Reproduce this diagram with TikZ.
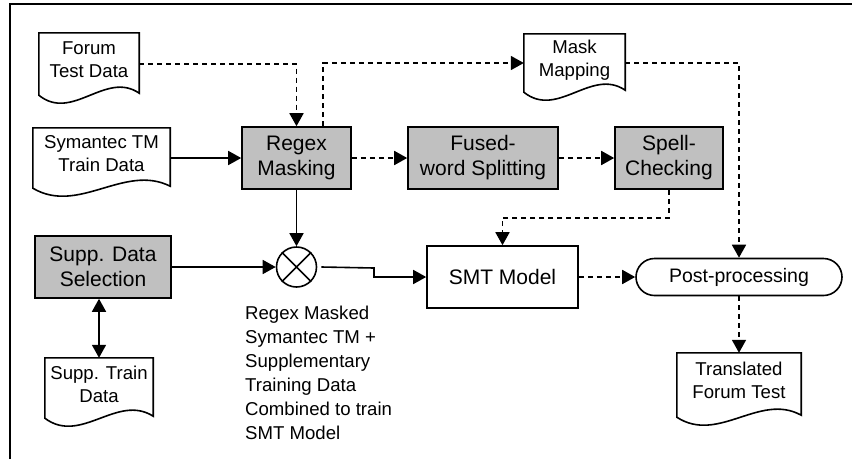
\documentclass[tikz,border=0pt]{standalone}
\usepackage{fontspec}
\setmainfont{Liberation Sans}
\usetikzlibrary{arrows.meta,calc,shapes.misc}
\definecolor{boxgray}{RGB}{192,192,192}

\tikzset{
  box/.style={draw, line width=1.6pt, inner sep=0pt, align=center,
    font=\fontsize{21}{25}\selectfont},
  grayproc/.style={box, fill=boxgray},
  docframe/.style={inner sep=0pt},
  doctext/.style={inner sep=0pt, align=center, font=\fontsize{18.6}{23}\selectfont},
  docline/.style={draw, line width=1.6pt, line join=miter},
  flow/.style={->, line width=1.6pt},
  dflow/.style={flow, line width=1.8pt, dash pattern=on 5pt off 4pt},
}

\begin{document}
\begin{tikzpicture}[x=1pt, y=-1pt, >={Triangle[length=13pt,width=14pt]}]
\useasboundingbox (0,0) rectangle (852,459);
\fill[white] (0,0) rectangle (852,459);

% outer frame (left and top edges)
\draw[line width=1.3pt] (10,459) -- (10,4) -- (852,4);

% document-shaped data nodes
\node[docframe, minimum width=100pt, minimum height=62pt] (forum) at (89,64) {};
\node[docframe, minimum width=137pt, minimum height=60pt] (sym) at (101.5,158) {};
\node[docframe, minimum width=101pt, minimum height=58pt] (mask) at (574.5,63) {};
\node[docframe, minimum width=108pt, minimum height=60pt] (supptrain) at (99,388) {};
\node[docframe, minimum width=124pt, minimum height=64pt] (trans) at (739,385) {};

\foreach \n in {forum,sym,mask,supptrain,trans}{
  \draw[docline] (\n.south west) -- (\n.north west) -- (\n.north east)
    -- ($(\n.south east)+(0,-2)$)
    .. controls ($(\n.south west)!0.667!(\n.south east)+(0,-25)$)
       and ($(\n.south west)!0.333!(\n.south east)+(0,27)$) .. (\n.south west) -- cycle;
}

\node[doctext] (forumtxt) at ([yshift=4pt]forum.center) {Forum\\Test Data};
\node[doctext] (symtxt) at ([yshift=4pt]sym.center) {Symantec TM\\Train Data};
\node[doctext] (masktxt) at ([yshift=3pt]mask.center) {Mask\\Mapping};
\node[doctext] (supptraintxt) at ([yshift=4pt]supptrain.center) {Supp. Train\\Data};
\node[doctext] (transtxt) at ([yshift=5pt]trans.center) {Translated\\Forum Test};

% processing steps
\node[grayproc, minimum width=109pt, minimum height=62pt] (regex) at (296.5,158) {Regex\\Masking};
\node[grayproc, minimum width=150pt, minimum height=62pt] (fused) at (483,158) {Fused-\\word Splitting};
\node[grayproc, minimum width=108pt, minimum height=62pt] (spell) at (669,158) {Spell-\\Checking};
\node[grayproc, minimum width=136pt, minimum height=62pt] (supp) at (103,267) {Supp. Data\\Selection};
\node[box, minimum width=151pt, minimum height=62pt] (smt) at (502.5,277) {SMT Model};
\node[draw, line width=1.6pt, rounded rectangle, inner sep=0pt,
      minimum width=206pt, minimum height=37pt,
      font=\fontsize{19.5}{23}\selectfont] (post) at (739,277) {Post-processing};

% combining junction
\node[draw, circle, line width=1.6pt, minimum size=40pt, inner sep=0pt] (mix) at (296.5,267) {};
\draw[line width=1.5pt] (mix.45) -- (mix.225) (mix.135) -- (mix.315);

\node[inner sep=0pt, anchor=north west, align=left,
      font=\fontsize{18.6}{24}\selectfont] (mixlabel) at (245,306)
  {Regex Masked\\Symantec TM +\\Supplementary\\Training Data\\Combined to train\\SMT Model};

% connectors
\draw[dflow] (forum.east) -| (regex.north);
\draw[dflow] ([xshift=26.5pt]regex.north) |- (mask.west);
\draw[flow] (sym.east) -- (regex.west);
\draw[dflow] (regex.east) -- (fused.west);
\draw[dflow] (fused.east) -- (spell.west);
\draw[dflow] (spell.south) -- ++(0,28) -| (smt.north);
\draw[dflow] (mask.east) -| (post.north);
\draw[dflow] (smt.east) -- (post.west);
\draw[dflow] (post.south) -- (trans.north);
\draw[flow] (regex.south) -- (mix.north);
\draw[flow] (supp.east) -- (mix.west);
\coordinate (jog) at (374,268);
\draw[flow] ([xshift=4pt]mix.east) -- (jog) |- (smt.west);
\draw[flow, <->] (supp.south -| supptrain.north) -- (supptrain.north);
\end{tikzpicture}
\end{document}
